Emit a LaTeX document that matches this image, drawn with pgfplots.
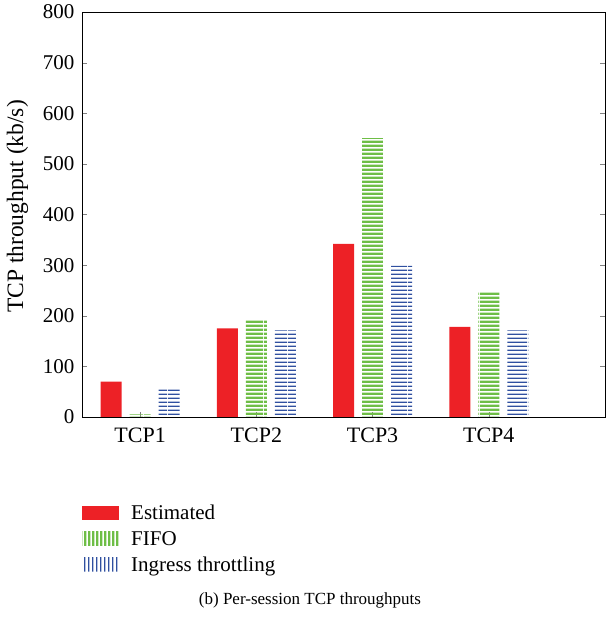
\documentclass[border=0pt]{standalone}
\usepackage{fontspec}
\setmainfont{Liberation Serif}
\usepackage{pgfplots}
\pgfplotsset{compat=1.18}
\usetikzlibrary{patterns.meta}
\definecolor{estred}{RGB}{237,33,38}
\definecolor{fifogreen}{RGB}{110,190,70}
\definecolor{ingblue}{RGB}{48,80,160}

% horizontal stripes for the bars, vertical ones for the legend
\tikzdeclarepattern{name=hstripe, type=uncolored,
  bottom left={(0pt,0pt)}, top right={(24pt,4pt)}, tile size={(24pt,4pt)},
  parameters={\stripew},
  defaults={stripe/.store in=\stripew, stripe=1.5pt},
  code={\pgfpathrectangle{\pgfpoint{0pt}{0pt}}{\pgfpoint{24pt}{\stripew}}\pgfusepath{fill}}}
\tikzdeclarepattern{name=vstripe, type=uncolored,
  bottom left={(0pt,0pt)}, top right={(4pt,24pt)}, tile size={(4pt,24pt)},
  parameters={\stripew},
  defaults={stripe/.store in=\stripew, stripe=1.5pt},
  code={\pgfpathrectangle{\pgfpoint{0pt}{0pt}}{\pgfpoint{\stripew}{24pt}}\pgfusepath{fill}}}

\begin{document}
\begin{tikzpicture}
\begin{axis}[
  name=ax,
  scale only axis,
  width=523pt, height=405pt,
  ybar=8pt,
  bar width=21pt,
  xmin=0.5, xmax=5,
  ymin=0, ymax=800,
  xtick={1,2,3,4},
  xticklabels={TCP1,TCP2,TCP3,TCP4},
  ytick={0,100,...,800},
  xtick pos=left,
  ytick pos=both,
  tick align=inside,
  major tick length=5pt,
  /pgf/number format/assume math mode=true,
  ticklabel style={font=\fontsize{21}{24}\selectfont},
  yticklabel style={xshift=-4pt},
  xticklabel style={yshift=-7pt, font=\fontsize{22}{24}\selectfont},
  ylabel={TCP throughput (kb/s)},
  ylabel style={font=\fontsize{23.5}{26}\selectfont, yshift=8pt, xshift=8pt},
  legend style={at={(0,-0.212)}, anchor=north west, draw=none,
    inner sep=0pt, font=\fontsize{21}{24}\selectfont, row sep=6pt,
    /tikz/every odd column/.append style={column sep=10pt}},
  legend cell align=left,
]
\addplot[draw=none, fill=estred,
  legend image code/.code={\fill[estred] (0pt,-7pt) rectangle (37pt,7pt);}]
  coordinates {(1,70) (2,175) (3,342) (4,178)};
\addplot[draw=none,
  pattern={hstripe[stripe=2.9pt]}, pattern color=fifogreen,
  legend image code/.code={\fill[pattern={vstripe[stripe=2.9pt]}, pattern color=fifogreen] (0pt,-7pt) rectangle (37pt,7pt);}]
  coordinates {(1,5) (2,193) (3,551) (4,247)};
\addplot[draw=none,
  pattern={hstripe[stripe=1.8pt]}, pattern color=ingblue,
  legend image code/.code={\fill[pattern={vstripe[stripe=1.8pt]}, pattern color=ingblue] (0pt,-7pt) rectangle (37pt,7pt);}]
  coordinates {(1,55) (2,171) (3,299) (4,171)};
\legend{Estimated, FIFO, Ingress throttling}
\end{axis}
\node[font=\fontsize{17}{20}\selectfont] at ([shift={(228pt,-183pt)}]ax.south west) {(b) Per-session TCP throughputs};
\pgfresetboundingbox
\path[use as bounding box] ([shift={(-82pt,-202pt)}]ax.south west) rectangle ([shift={(1pt,12pt)}]ax.north east);
\end{tikzpicture}
\end{document}
